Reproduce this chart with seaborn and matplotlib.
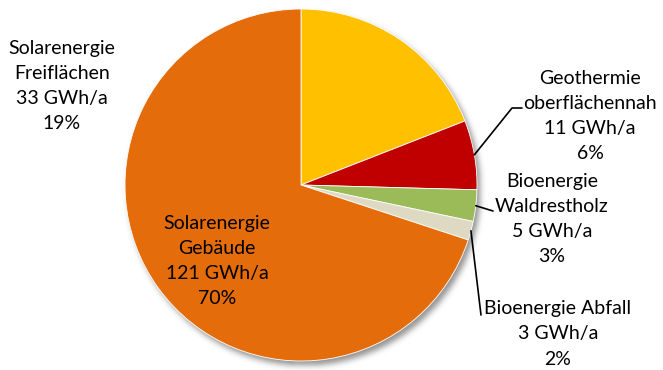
import numpy as np
import matplotlib
matplotlib.use("Agg")
import matplotlib.pyplot as plt
import seaborn as sns

sns.set_theme(style="white")
plt.rcParams["font.family"] = ["Lato", "DejaVu Sans"]

# Energy potential by source (GWh/a), clockwise from 12 o'clock
sources = [
    "Solarenergie\nFreiflächen",
    "Geothermie\noberflächennah",
    "Bioenergie\nWaldrestholz",
    "Bioenergie Abfall",
    "Solarenergie\nGebäude",
]
energy_gwh = [33, 11, 5, 3, 121]
shares_pct = [19, 6, 3, 2, 70]
colors = ["#FFC000", "#C00000", "#9BBB59", "#DDD9C3", "#E46C0A"]

W, H = 663, 370
fig = plt.figure(figsize=(W / 100, H / 100), dpi=100)
ax = fig.add_axes([0, 0, 1, 1])

cx, cy, r = 301, 370 - 185, 176

# soft drop shadow behind the pie
gx, gy = np.meshgrid(np.arange(W), np.arange(H))
disk = (((gx - (cx + 3)) ** 2 + ((H - gy) - (cy - 4)) ** 2) <= r ** 2).astype(float)
k = np.exp(-0.5 * (np.arange(-9, 10) / 3.0) ** 2)
k /= k.sum()
disk = np.apply_along_axis(lambda v: np.convolve(v, k, mode="same"), 0, disk)
disk = np.apply_along_axis(lambda v: np.convolve(v, k, mode="same"), 1, disk)
rgba = np.zeros((H, W, 4))
rgba[..., :3] = 0.35
rgba[..., 3] = disk * 0.65
ax.imshow(rgba, extent=(0, W, 0, H), origin="upper", zorder=0, interpolation="bilinear")

wedges, _ = ax.pie(
    energy_gwh,
    colors=colors,
    startangle=90,
    counterclock=False,
    center=(cx, cy),
    radius=r,
    wedgeprops=dict(linewidth=0.6, edgecolor="white"),
    frame=True,
)
ax.set_xlim(0, W)
ax.set_ylim(0, H)
ax.set_aspect("equal")
ax.axis("off")

def label(i):
    return f"{sources[i]}\n{energy_gwh[i]} GWh/a\n{shares_pct[i]}%"

def edge_point(i):
    w = wedges[i]
    a = np.deg2rad((w.theta1 + w.theta2) / 2)
    return cx + r * np.cos(a), cy + r * np.sin(a)

txt = dict(ha="center", va="center", fontsize=14, color="black", linespacing=1.58)

# Solarenergie Freiflächen: free-standing text top left
ax.text(62, H - 86, label(0), **txt)
# Solarenergie Gebäude: inside the slice
ax.text(217, H - 261, label(4), **txt)

# Geothermie with bent leader line
x0, y0 = edge_point(1)
ax.plot([x0, 512, 522], [y0, H - 108, H - 108], color="black", lw=1.2)
ax.text(590, H - 116, label(1), **txt)

# Bioenergie Waldrestholz with short leader
x0, y0 = edge_point(2)
ax.plot([x0, 493], [y0, H - 211], color="black", lw=1.2)
ax.text(552, H - 219, label(2), **txt)

# Bioenergie Abfall with leader down
x0, y0 = edge_point(3)
ax.plot([x0, 481], [y0, H - 315], color="black", lw=1.2)
ax.text(558, H - 334, label(3), **txt)

fig.savefig("out.png", dpi=100)
